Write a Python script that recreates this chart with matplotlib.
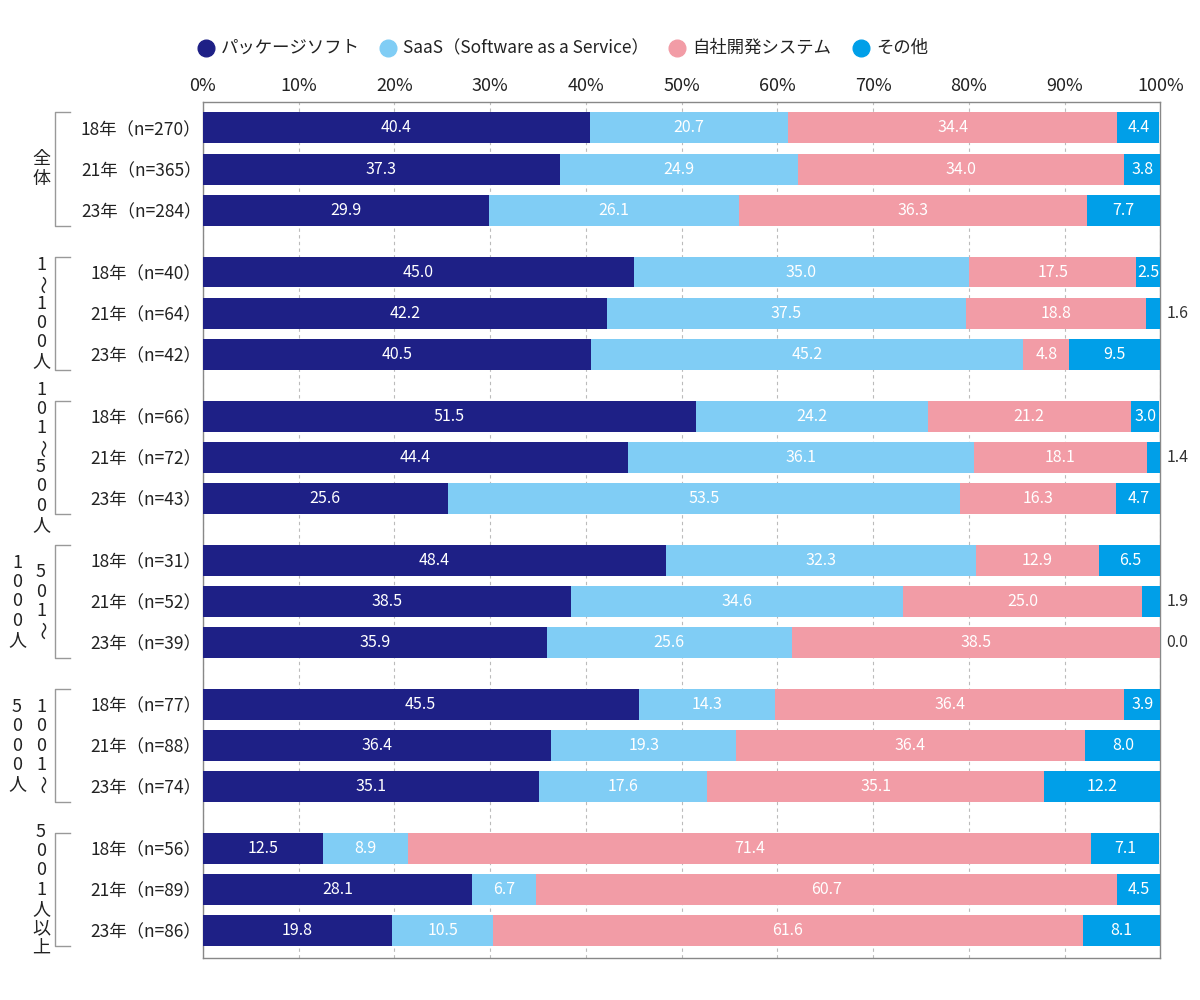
import numpy as np
import matplotlib
matplotlib.use("Agg")
import matplotlib.pyplot as plt
from matplotlib.lines import Line2D
from matplotlib.transforms import blended_transform_factory

plt.rcParams['font.family'] = ['Noto Sans CJK JP', 'DejaVu Sans']

# データ
series = ['パッケージソフト', 'SaaS（Software as a Service）', '自社開発システム', 'その他']
colors = ['#1e2086', '#80cdf5', '#f29ca6', '#009fe8']

# グループ見出し（縦書き、右の列から）
group_cols = [
    ['全体'],
    ['1～100人'],
    ['101～500人'],
    ['501～', '1000人'],
    ['1001～', '5000人'],
    ['5001人以上'],
]
years = ['18年', '21年', '23年']
n_vals = [[270, 365, 284], [40, 64, 42], [66, 72, 43],
          [31, 52, 39], [77, 88, 74], [56, 89, 86]]

package = [40.4, 37.3, 29.9, 45.0, 42.2, 40.5, 51.5, 44.4, 25.6,
           48.4, 38.5, 35.9, 45.5, 36.4, 35.1, 12.5, 28.1, 19.8]
saas = [20.7, 24.9, 26.1, 35.0, 37.5, 45.2, 24.2, 36.1, 53.5,
        32.3, 34.6, 25.6, 14.3, 19.3, 17.6, 8.9, 6.7, 10.5]
inhouse = [34.4, 34.0, 36.3, 17.5, 18.8, 4.8, 21.2, 18.1, 16.3,
           12.9, 25.0, 38.5, 36.4, 36.4, 35.1, 71.4, 60.7, 61.6]
other = [4.4, 3.8, 7.7, 2.5, 1.6, 9.5, 3.0, 1.4, 4.7,
         6.5, 1.9, 0.0, 3.9, 8.0, 12.2, 7.1, 4.5, 8.1]

values = np.array([package, saas, inhouse, other])

# 行の位置
ypos = []
labels = []
for g, ns in enumerate(n_vals):
    for i, n in enumerate(ns):
        ypos.append(g * 3.5 + i)
        labels.append(f'{years[i]}（n={n}）')
ypos = np.array(ypos)

fig = plt.figure(figsize=(12, 10), dpi=100)
ax = fig.add_axes([0.169, 0.042, 0.798, 0.856])

left = np.zeros(len(ypos))
for k in range(4):
    ax.barh(ypos, values[k], left=left, height=0.75, color=colors[k],
            label=series[k], zorder=3)
    for y, l, v in zip(ypos, left, values[k]):
        if v >= 2.0:
            ax.text(l + v / 2, y, f'{v:.1f}', ha='center', va='center',
                    color='white', fontsize=11.5, zorder=4)
        elif k == 3:
            ax.text(100.6, y, f'{v:.1f}', ha='left', va='center',
                    color='#333333', fontsize=11.5, clip_on=False)
    left += values[k]

ax.set_xlim(0, 100)
ax.set_ylim(ypos[-1] + 0.66, -0.63)
ax.set_xticks(np.arange(0, 101, 10))
ax.set_xticklabels([f'{t}%' for t in range(0, 101, 10)], fontsize=13, color='#222222')
ax.xaxis.tick_top()
ax.tick_params(axis='x', length=0, pad=5)
ax.set_yticks(ypos)
ax.set_yticklabels(labels, fontsize=12.5, color='#222222')
ax.tick_params(axis='y', length=0, pad=1)
ax.grid(axis='x', linestyle=(0, (3, 3)), color='#bbbbbb', linewidth=0.8, zorder=0)
for s in ax.spines.values():
    s.set_color('#888888')
    s.set_linewidth(1)

# グループの括弧と縦書き見出し
tr = blended_transform_factory(fig.transFigure, ax.transData)
step = 0.47
for g, cols in enumerate(group_cols):
    top = g * 3.5 - 0.375
    bot = g * 3.5 + 2.375
    xb, xe = 55 / 1200, 70 / 1200
    fig.add_artist(Line2D([xe, xb, xb, xe], [top, top, bot, bot], transform=tr,
                          color='#999999', linewidth=1))
    center = g * 3.5 + 1
    for c, col in enumerate(cols):
        x = (41 - 24 * c) / 1200
        start = center - (len(col) - 1) * step / 2
        for j, ch in enumerate(col):
            rot = 270 if ch == '～' else 0
            fig.text(x, start + j * step, ch, transform=tr, ha='center', va='center',
                     fontsize=13, color='#222222', rotation=rot)

# 凡例（手動配置）
legend_circle_x = [206, 388, 677, 861]
legend_y = 1 - 48 / 1000
for xc, c, name in zip(legend_circle_x, colors, series):
    fig.add_artist(Line2D([xc / 1200], [legend_y], marker='o', markersize=12,
                          markerfacecolor=c, markeredgecolor=c, linestyle='none'))
    fig.text((xc + 15) / 1200, legend_y, name, ha='left', va='center',
             fontsize=12.5, color='#222222')

fig.savefig('out.png', dpi=100)
